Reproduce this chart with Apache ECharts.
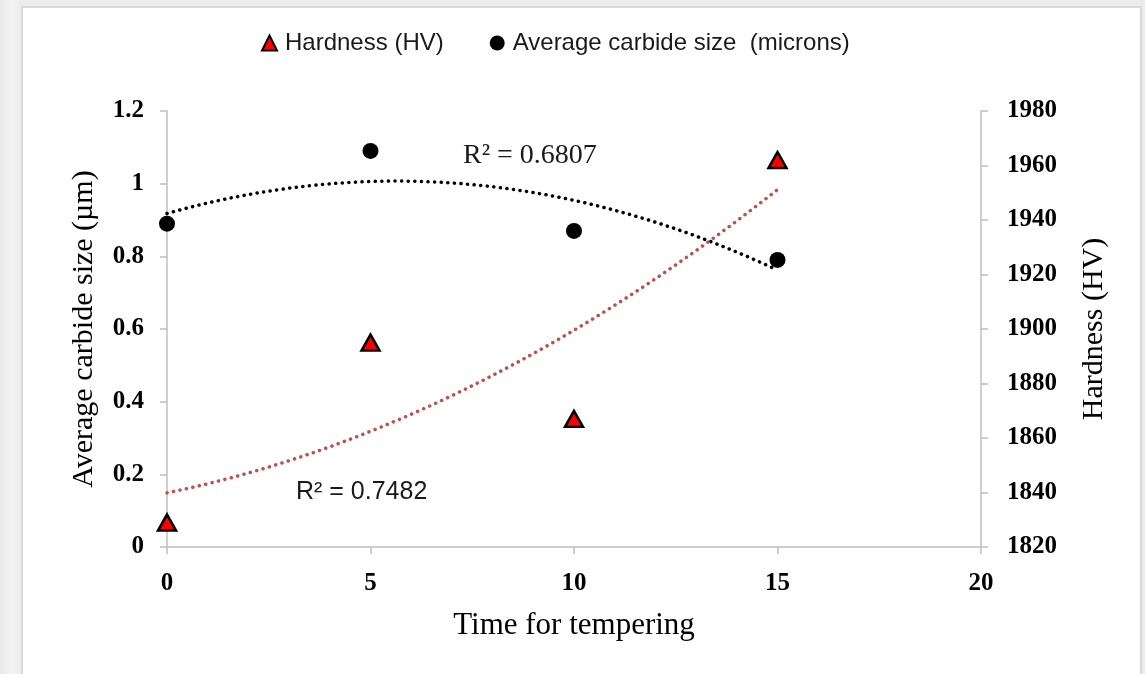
<!DOCTYPE html>
<html>
<head>
<meta charset="utf-8">
<script src="https://cdn.jsdelivr.net/npm/echarts@6/dist/echarts.min.js"></script>
<style>
  html, body { margin: 0; padding: 0; width: 1145px; height: 674px; overflow: hidden;
    background: linear-gradient(90deg, #e9e9e9 0px, #f3f3f3 12px, #ececec 20px); }
  #frame { position: absolute; left: 21px; top: 6px; width: 1117px; height: 680px;
    background: #ffffff; border: 2px solid #d9d9d9; }
  #chart { position: absolute; left: 0; top: 0; width: 1145px; height: 674px; }
</style>
</head>
<body>
<div id="frame"></div>
<div id="chart"></div>
<script>
// Tempering time (x) and measured values
const temperTimes = [0, 5, 10, 15];
const carbideSize = [0.89, 1.09, 0.87, 0.79];      // µm
const hardnessHV = [1829, 1895, 1867, 1962];       // HV

const xTicks = { min: 0, max: 20, interval: 5 };
const leftTicks = { min: 0, max: 1.2, interval: 0.2 };
const rightTicks = { min: 1820, max: 1980, interval: 20 };

const r2Carbide = 'R² = 0.6807';
const r2Hardness = 'R² = 0.7482';

// Second-order least-squares polynomial fit (trendline)
function quadFit(xs, ys) {
  let s = [0, 0, 0, 0, 0], t = [0, 0, 0];
  for (let i = 0; i < xs.length; i++) {
    let p = 1;
    for (let k = 0; k < 5; k++) { s[k] += p; if (k < 3) t[k] += p * ys[i]; p *= xs[i]; }
  }
  const A = [[s[0], s[1], s[2], t[0]], [s[1], s[2], s[3], t[1]], [s[2], s[3], s[4], t[2]]];
  for (let c = 0; c < 3; c++) {
    for (let r = c + 1; r < 3; r++) {
      const f = A[r][c] / A[c][c];
      for (let k = c; k < 4; k++) A[r][k] -= f * A[c][k];
    }
  }
  const b = [0, 0, 0];
  for (let r = 2; r >= 0; r--) {
    let v = A[r][3];
    for (let k = r + 1; k < 3; k++) v -= A[r][k] * b[k];
    b[r] = v / A[r][r];
  }
  return x => b[0] + b[1] * x + b[2] * x * x;
}
function trendPoints(xs, ys) {
  const f = quadFit(xs, ys);
  const lo = Math.min(...xs), hi = Math.max(...xs), pts = [];
  for (let x = lo; x <= hi + 1e-9; x += 0.25) pts.push([x, f(x)]);
  return pts;
}

const serif = '"Liberation Serif", "Times New Roman", serif';
const sans = '"Liberation Sans", Arial, sans-serif';
const axisGray = '#bfbfbf';
const tickFont = { fontFamily: serif, fontSize: 25, fontWeight: 'bold', color: '#000' };

const chart = echarts.init(document.getElementById('chart'), null, { renderer: 'canvas' });
chart.setOption({
  backgroundColor: 'transparent',
  animation: false,
  grid: { left: 167, right: 164, top: 111, bottom: 127 },
  legend: {
    top: 26, left: 256, itemGap: 46, itemWidth: 15, itemHeight: 15,
    data: [
      { name: 'Hardness (HV)', icon: 'triangle' },
      { name: 'Average carbide size  (microns)', icon: 'circle' }
    ],
    textStyle: { fontFamily: sans, fontSize: 24, color: '#1a1a1a', padding: [0, 0, 0, 3] }
  },
  xAxis: {
    type: 'value', min: xTicks.min, max: xTicks.max, interval: xTicks.interval,
    name: 'Time for tempering', nameLocation: 'middle', nameGap: 63,
    nameTextStyle: { fontFamily: serif, fontSize: 31, color: '#000' },
    axisLine: { onZero: false, lineStyle: { color: axisGray, width: 1.5 } },
    axisTick: { show: true, length: 7, lineStyle: { color: axisGray, width: 1.5 } },
    axisLabel: Object.assign({ margin: 24 }, tickFont),
    splitLine: { show: false }
  },
  yAxis: [
    {
      type: 'value', position: 'left', min: leftTicks.min, max: leftTicks.max, interval: leftTicks.interval,
      name: 'Average carbide size (µm)', nameLocation: 'middle', nameGap: 68,
      nameTextStyle: { fontFamily: serif, fontSize: 30, color: '#000' },
      axisLine: { show: true, lineStyle: { color: axisGray, width: 1.5 } },
      axisTick: { show: true, length: 7, lineStyle: { color: axisGray, width: 1.5 } },
      axisLabel: Object.assign({ margin: 23 }, tickFont),
      splitLine: { show: false }
    },
    {
      type: 'value', position: 'right', min: rightTicks.min, max: rightTicks.max, interval: rightTicks.interval,
      name: 'Hardness (HV)', nameLocation: 'middle', nameGap: 98, nameRotate: 90,
      nameTextStyle: { fontFamily: serif, fontSize: 30, color: '#000' },
      axisLine: { show: true, lineStyle: { color: axisGray, width: 1.5 } },
      axisTick: { show: true, length: 7, lineStyle: { color: axisGray, width: 1.5 } },
      axisLabel: Object.assign({ margin: 26, formatter: v => String(v) }, tickFont),
      splitLine: { show: false }
    }
  ],
  series: [
    {
      name: 'Carbide trend', type: 'line', yAxisIndex: 0, showSymbol: false, smooth: false,
      data: trendPoints(temperTimes, carbideSize), silent: true, z: 1,
      lineStyle: { color: '#000', width: 3.5, type: [0.1, 6.5], cap: 'round' }
    },
    {
      name: 'Hardness trend', type: 'line', yAxisIndex: 1, showSymbol: false, smooth: false,
      data: trendPoints(temperTimes, hardnessHV), silent: true, z: 1,
      lineStyle: { color: '#c0504d', width: 3.5, type: [0.1, 6.5], cap: 'round' }
    },
    {
      name: 'Hardness (HV)', type: 'scatter', yAxisIndex: 1, symbol: 'triangle', symbolSize: [18, 16],
      data: temperTimes.map((t, i) => [t, hardnessHV[i]]), z: 3,
      itemStyle: { color: '#ff0000', borderColor: '#000', borderWidth: 2.5, opacity: 1 }
    },
    {
      name: 'Average carbide size  (microns)', type: 'scatter', yAxisIndex: 0, symbol: 'circle', symbolSize: 16,
      data: temperTimes.map((t, i) => [t, carbideSize[i]]), z: 3,
      itemStyle: { color: '#000', opacity: 1 }
    }
  ],
  graphic: [
    { type: 'text', left: 463, top: 142, style: { text: r2Carbide, fontFamily: serif, fontSize: 28, fill: '#1a1a1a' } },
    { type: 'text', left: 296, top: 480, style: { text: r2Hardness, fontFamily: sans, fontSize: 25, fill: '#1a1a1a' } }
  ]
});
</script>
</body>
</html>
